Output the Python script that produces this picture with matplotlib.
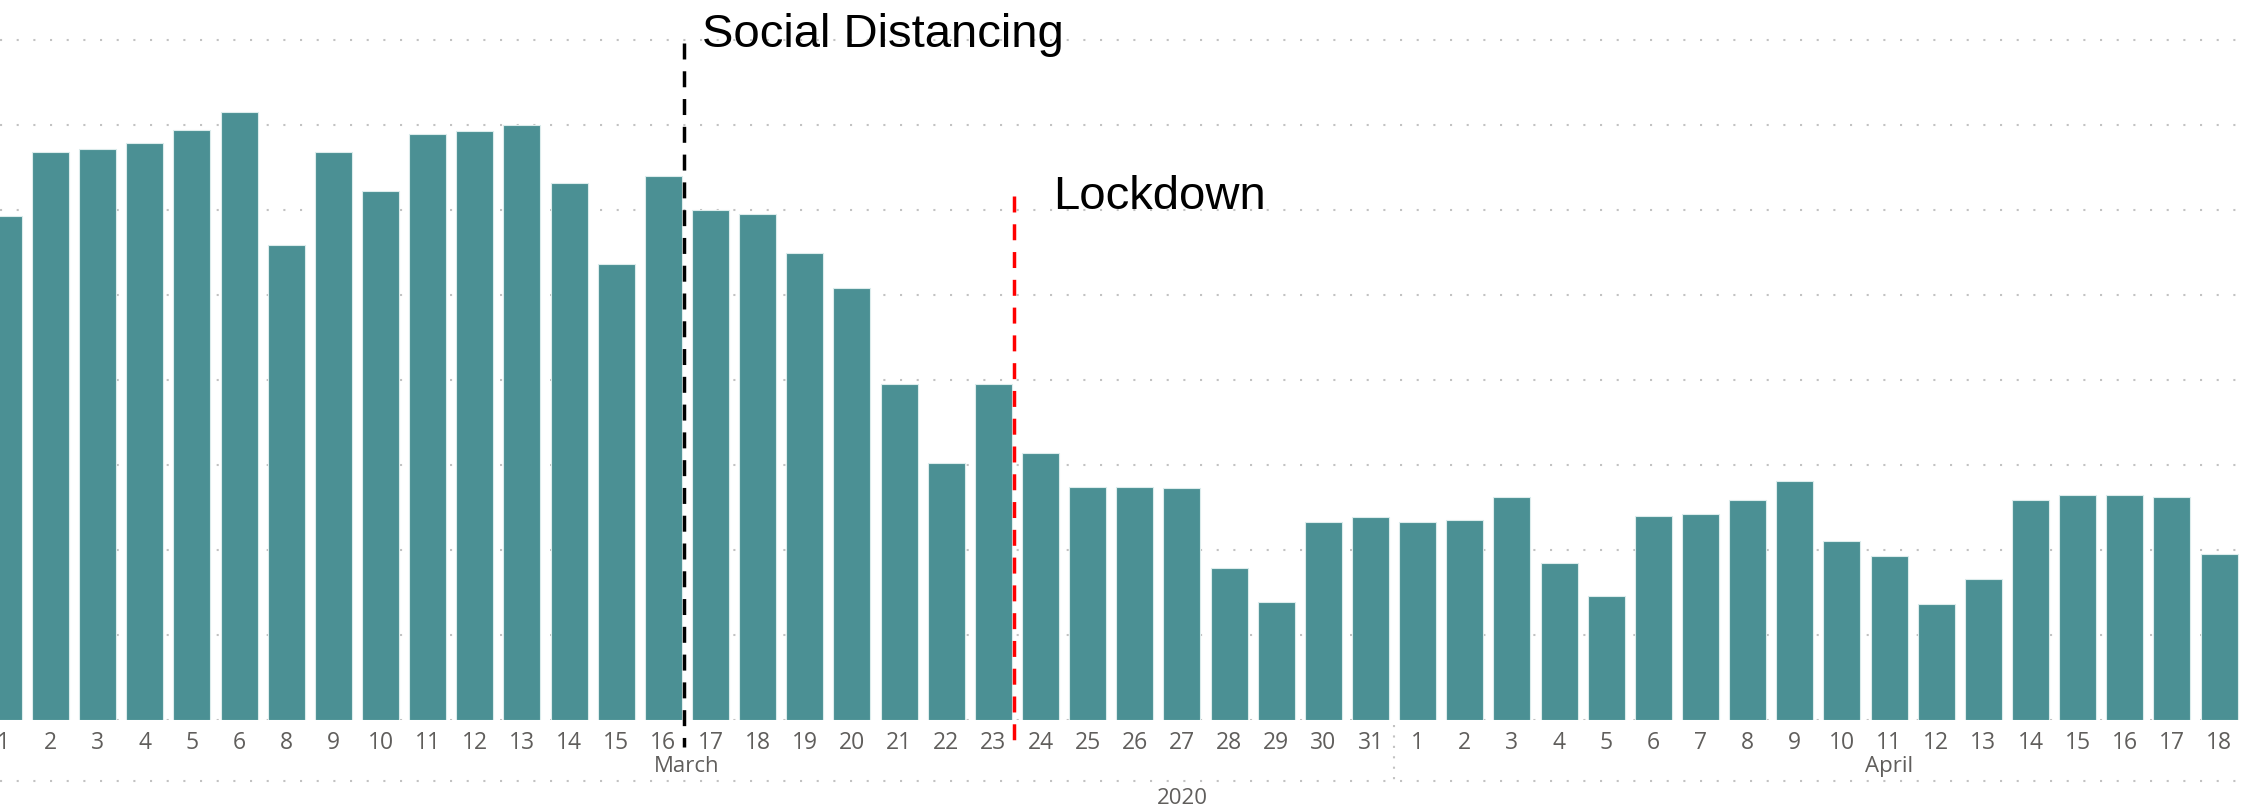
import matplotlib
matplotlib.use("Agg")
import matplotlib.pyplot as plt
from matplotlib.transforms import blended_transform_factory

# daily values, March (no 7th) then April 2020
march_days = [1, 2, 3, 4, 5, 6, 8, 9, 10, 11, 12, 13, 14, 15, 16, 17, 18, 19,
              20, 21, 22, 23, 24, 25, 26, 27, 28, 29, 30, 31]
march_vals = [593, 668, 672, 679, 694, 715, 559, 668, 623, 690, 693, 700, 632,
              537, 640, 600, 596, 549, 508, 395, 302, 395, 314, 274, 274, 273,
              178, 139, 233, 239]
april_days = list(range(1, 19))
april_vals = [233, 235, 262, 184, 145, 240, 242, 259, 281, 210, 193, 136, 166,
              259, 264, 264, 262, 195]

events = ["Social Distancing", "Lockdown"]
event_after = [("March", 16), ("March", 23)]   # line drawn just after this day
event_colors = ["black", "red"]

days = march_days + april_days
vals = march_vals + april_vals
months = ["March"] * len(march_days) + ["April"] * len(april_days)
x = list(range(len(days)))

BAR = "#4b9094"
GRID = "#c2c2c2"
LABEL = "#605e5c"

fig = plt.figure(figsize=(22.46, 8.10), dpi=100)
ax = fig.add_axes([0, 0.1117, 1, 0.8883])

ax.bar(x, vals, width=0.785, color=BAR, edgecolor="#dcecec", linewidth=0.8, zorder=2)

ax.set_xlim(-0.072, 47.57)
ax.set_ylim(0, 847.5)
ax.set_yticks(range(0, 801, 100))
ax.yaxis.grid(True, color=GRID, linestyle=(0, (1, 7)), linewidth=1.5, zorder=0)
ax.set_yticklabels([])
ax.tick_params(axis="y", length=0)
for s in ax.spines.values():
    s.set_visible(False)

ax.set_xticks(x)
ax.set_xticklabels([str(d) for d in days], fontfamily="Open Sans", fontsize=16.5, color=LABEL)
ax.tick_params(axis="x", length=0, pad=8)

# month / year header rows below the day labels
fy = blended_transform_factory(ax.transData, fig.transFigure)
ax.text(14.5, 0.0543, "March", transform=fy, ha="center", va="center",
        fontfamily="Open Sans", fontsize=16, color=LABEL)
ax.text(40.0, 0.0543, "April", transform=fy, ha="center", va="center",
        fontfamily="Open Sans", fontsize=16, color=LABEL)
ax.text(25.0, 0.0148, "2020", transform=fy, ha="center", va="center",
        fontfamily="Open Sans", fontsize=16, color=LABEL)

ax.plot([29.5, 29.5], [0.105, 0.0358], transform=fy, clip_on=False,
        color=GRID, linestyle=(0, (1, 4)), linewidth=1.5)
fa = blended_transform_factory(ax.transAxes, fig.transFigure)
ax.plot([0, 1], [0.0358, 0.0358], transform=fa, clip_on=False,
        color=GRID, linestyle=(0, (1, 7)), linewidth=1.5)

# event markers: dashed line plus a label to its right
tops = [797, 617]
label_y = [792, 601]
label_dx = [0.38, 0.83]
for name, (m, d), c, top, ly, dx in zip(events, event_after, event_colors,
                                        tops, label_y, label_dx):
    i = [k for k in x if months[k] == m and days[k] == d][0]
    xe = i + 0.43
    ax.plot([xe, xe], [top, -32], color=c, linestyle=(0, (4.6, 3.4)),
            linewidth=2.5, clip_on=False, zorder=3)
    ax.text(xe + dx, ly, name, ha="left", va="baseline",
            fontfamily="Liberation Sans", fontsize=34, color="black")

fig.savefig("out.png", dpi=100)
